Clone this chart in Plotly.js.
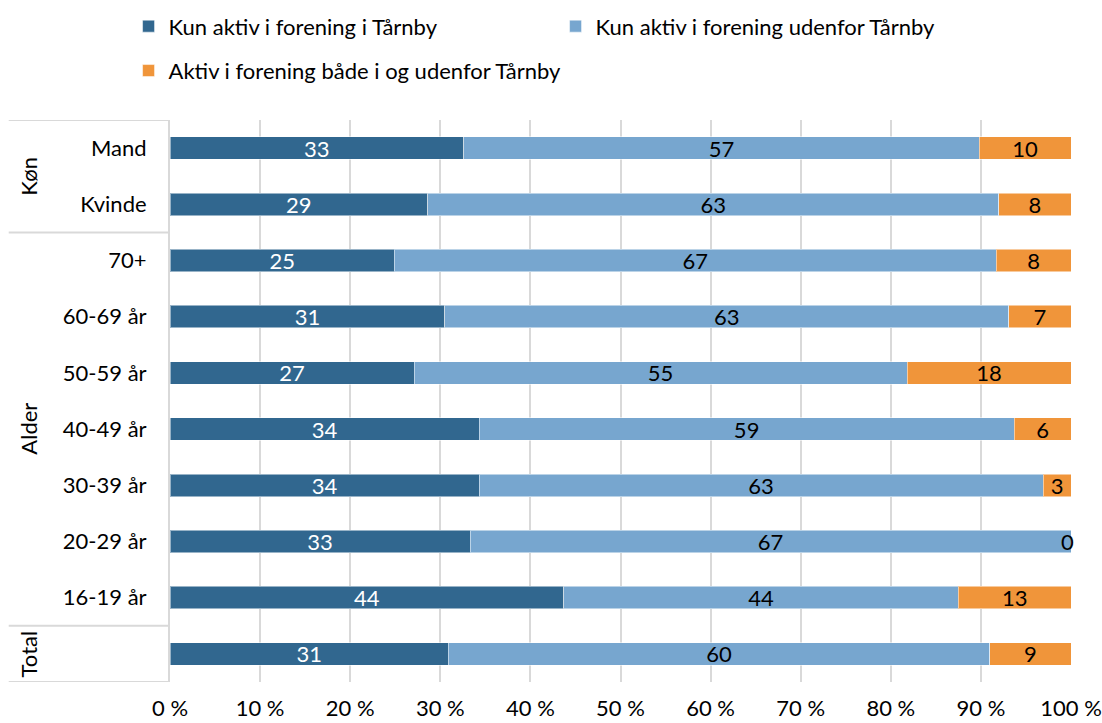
<!DOCTYPE html>
<html>
<head>
<meta charset="utf-8">
<script src="https://cdn.plot.ly/plotly-3.0.1.min.js"></script>
<style>html,body{margin:0;padding:0;background:#fff;}#chart{width:1102px;height:723px;}</style>
</head>
<body>
<div id="chart"></div>
<script>
// Categories (top to bottom)
const categories = ["Mand","Kvinde","70+","60-69 år","50-59 år","40-49 år","30-39 år","20-29 år","16-19 år","Total"];
const tickLabels = ["Mand","Kvinde","70+","60-69 år","50-59 år","40-49 år","30-39 år","20-29 år","16-19 år",""];
const seriesNames = ["Kun aktiv i forening i Tårnby","Kun aktiv i forening udenfor Tårnby","Aktiv i forening både i og udenfor Tårnby"];
const onlyInside  = [32.6, 28.6, 24.9, 30.5, 27.1, 34.3, 34.3, 33.3, 43.7, 30.9];
const onlyOutside = [57.2, 63.4, 66.8, 62.6, 54.7, 59.4, 62.6, 66.7, 43.8, 60.1];
const both        = [10.2,  8.0,  8.3,  6.9, 18.2,  6.3,  3.1,  0.0, 12.5,  9.0];
const xTickVals   = [0,10,20,30,40,50,60,70,80,90,100];
const xTickText   = ["0 %","10 %","20 %","30 %","40 %","50 %","60 %","70 %","80 %","90 %","100 %"];
// Group labels
const groupNames = ["Køn","Alder","Total"];
const groupCenters = [0.5, 5, 9];
const groupDividers = [-0.5, 1.5, 8.5, 9.5];

const FONT = "Lato, Open Sans, sans-serif";
const FS = 22;
const colors = ["#31678f","#77a6cf","#f0953a"];
const textColors = ["#ffffff","#000000","#000000"];
const vals = [onlyInside, onlyOutside, both];
const legendIds = ["legend","legend","legend2"];

const traces = vals.map((v, i) => ({
  type: "bar",
  orientation: "h",
  name: seriesNames[i],
  legend: legendIds[i],
  y: categories,
  x: v,
  marker: {color: colors[i], line: {color: "rgba(255,255,255,0.5)", width: 1}},
  texttemplate: "%{x:.0f}",
  textposition: i === 2 ? "auto" : "inside",
  insidetextanchor: "middle",
  textangle: 0,
  constraintext: "none",
  cliponaxis: false,
  textfont: {family: FONT, size: FS, color: textColors[i]},
  insidetextfont: {family: FONT, size: FS, color: textColors[i]},
  outsidetextfont: {family: FONT, size: FS, color: "#000000"},
  hoverinfo: "skip"
}));

const shapes = groupDividers.map(y => ({
  type: "line", xref: "paper", yref: "y",
  x0: -0.179, x1: -0.002, y0: y, y1: y,
  line: {color: "#d9d9d9", width: 2}
}));

const annotations = groupNames.map((g, i) => ({
  text: g, xref: "paper", yref: "y",
  x: -0.157, y: groupCenters[i], xanchor: "center", yanchor: "middle",
  showarrow: false, textangle: -90,
  font: {family: FONT, size: FS, color: "#000"}
}));

// Labels for zero-width segments (Plotly does not draw text on empty bars)
both.forEach((v, k) => {
  if (v === 0) {
    annotations.push({
      text: String(Math.round(v)), xref: "x", yref: "y",
      x: onlyInside[k] + onlyOutside[k] + v, y: categories[k],
      xanchor: "right", xshift: 5, yanchor: "middle",
      showarrow: false,
      font: {family: FONT, size: FS, color: "#000"}
    });
  }
});

const legendCommon = {
  orientation: "h", xanchor: "left", yanchor: "top",
  xref: "paper", yref: "paper",
  entrywidthmode: "pixels",
  font: {family: FONT, size: FS, color: "#000"},
  itemwidth: 30, traceorder: "normal", bgcolor: "rgba(0,0,0,0)"
};

const layout = {
  width: 1102, height: 723,
  margin: {l: 170, r: 31, t: 120, b: 41, autoexpand: false},
  paper_bgcolor: "#fff", plot_bgcolor: "#fff",
  barmode: "stack",
  bargap: 0.6,
  font: {family: FONT, size: FS, color: "#000"},
  showlegend: true,
  legend: Object.assign({}, legendCommon, {x: -0.046, y: 1.204, entrywidth: 382}),
  legend2: Object.assign({}, legendCommon, {x: -0.046, y: 1.125, entrywidth: 450}),
  xaxis: {
    range: [0, 100.0001], tickmode: "array", tickvals: xTickVals, ticktext: xTickText,
    showgrid: true, gridcolor: "#d9d9d9", gridwidth: 2,
    zeroline: false, showline: false,
    ticks: "", ticklabelstandoff: 11,
    tickfont: {family: FONT, size: FS, color: "#000"}
  },
  yaxis: {
    type: "category",
    categoryorder: "array", categoryarray: categories,
    tickmode: "array", tickvals: categories, ticktext: tickLabels,
    range: [9.5, -0.5],
    showgrid: false, zeroline: false,
    showline: true, linecolor: "#d9d9d9", linewidth: 2,
    ticks: "", ticklabelstandoff: 17,
    tickfont: {family: FONT, size: FS, color: "#000"}
  },
  shapes: shapes,
  annotations: annotations
};

Plotly.newPlot("chart", traces, layout, {displayModeBar: false, staticPlot: true});
</script>
</body>
</html>
